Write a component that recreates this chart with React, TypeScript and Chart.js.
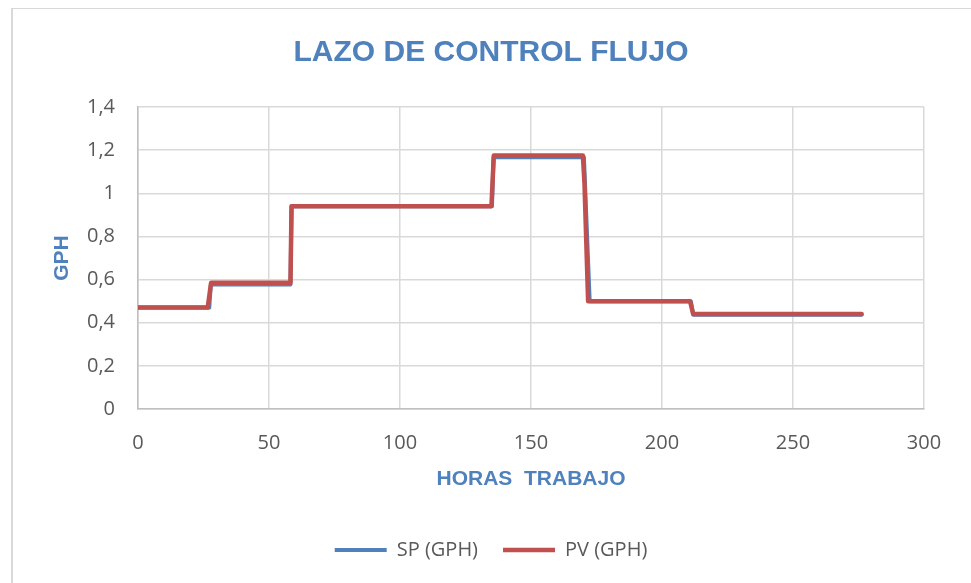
import { useEffect, useRef } from "react";
import { Chart, registerables } from "chart.js";

Chart.register(...registerables);

const chartTitle = "LAZO DE CONTROL FLUJO";
const xAxisTitle = "HORAS  TRABAJO";
const yAxisTitle = "GPH";
const seriesNames = ["SP (GPH)", "PV (GPH)"];

const spHours = [0, 27.2, 27.8, 58.2, 58.6, 135.1, 135.7, 170.2, 172.4, 211.0, 211.9, 276.2];
const spGph = [0.47, 0.47, 0.577, 0.577, 0.94, 0.94, 1.167, 1.167, 0.5, 0.5, 0.437, 0.437];

const pvHours = [0, 26.6, 27.9, 58.2, 58.6, 134.9, 135.8, 169.8, 170.4, 171.8, 210.7, 211.9, 276.2];
const pvGph = [0.47, 0.47, 0.585, 0.585, 0.94, 0.94, 1.175, 1.175, 1.05, 0.5, 0.5, 0.44, 0.44];

const xTicks = [0, 50, 100, 150, 200, 250, 300];
const yTicks = [0, 0.2, 0.4, 0.6, 0.8, 1, 1.2, 1.4];
const yTickLabels = ["0", "0,2", "0,4", "0,6", "0,8", "1", "1,2", "1,4"];

const BLUE = "#4F81BD";
const RED = "#C0504D";
const GRID = "#D9D9D9";
const TEXT = "#595959";

export default function App() {
  const ref = useRef<HTMLCanvasElement | null>(null);

  useEffect(() => {
    if (!ref.current) return;
    const spData = spHours.map((h, i) => ({ x: h, y: spGph[i] }));
    const pvData = pvHours.map((h, i) => ({ x: h, y: pvGph[i] }));

    const chart = new Chart(ref.current, {
      type: "scatter",
      data: {
        datasets: [
          {
            label: seriesNames[0],
            data: spData,
            showLine: true,
            borderColor: BLUE,
            backgroundColor: BLUE,
            borderWidth: 4,
            pointRadius: 0,
            borderCapStyle: "round",
            borderJoinStyle: "round",
            order: 2,
          },
          {
            label: seriesNames[1],
            data: pvData,
            showLine: true,
            borderColor: RED,
            backgroundColor: RED,
            borderWidth: 4.5,
            pointRadius: 0,
            borderCapStyle: "round",
            borderJoinStyle: "round",
            order: 1,
          },
        ],
      },
      options: {
        responsive: false,
        animation: false,
        layout: { padding: { left: 11, right: 0, top: 0, bottom: 13 } },
        plugins: {
          tooltip: { enabled: false },
          title: {
            display: true,
            text: chartTitle,
            color: BLUE,
            font: { family: "'Liberation Sans', Arial, sans-serif", size: 30, weight: "bold" },
            padding: { top: 35, bottom: 36 },
          },
          legend: {
            display: true,
            position: "bottom",
            labels: {
              usePointStyle: true,
              pointStyle: "line",
              pointStyleWidth: 52,
              boxHeight: 20,
              padding: 25,
              color: TEXT,
              font: { family: "'Open Sans', sans-serif", size: 20 },
              sort: (a: any, b: any) => a.datasetIndex - b.datasetIndex,
            },
          },
        },
        scales: {
          x: {
            type: "linear",
            min: 0,
            max: 300,
            afterBuildTicks: (scale: any) => {
              scale.ticks = xTicks.map((v) => ({ value: v }));
            },
            afterFit: (scale: any) => {
              scale.height = 106;
            },
            grid: { color: GRID, lineWidth: 1.5, drawTicks: false },
            border: { display: true, color: "#BFBFBF", width: 1.5 },
            ticks: {
              color: TEXT,
              padding: 22,
              maxRotation: 0,
              font: { family: "'Open Sans', sans-serif", size: 20 },
            },
            title: {
              display: true,
              text: xAxisTitle,
              color: BLUE,
              font: { family: "'Liberation Sans', Arial, sans-serif", size: 21, weight: "bold" },
              padding: { top: 0, bottom: 23 },
            },
          },
          y: {
            type: "linear",
            position: "left",
            min: 0,
            max: 1.4,
            afterBuildTicks: (scale: any) => {
              scale.ticks = yTicks.map((v) => ({ value: v }));
            },
            afterFit: (scale: any) => {
              scale.width = 127;
            },
            grid: { color: GRID, lineWidth: 1.5, drawTicks: false },
            border: { display: true, color: "#BFBFBF", width: 1.5 },
            ticks: {
              color: TEXT,
              padding: 23,
              font: { family: "'Open Sans', sans-serif", size: 20 },
              callback: (_v: any, i: number) => yTickLabels[i],
            },
            title: {
              display: true,
              text: yAxisTitle,
              color: BLUE,
              font: { family: "'Liberation Sans', Arial, sans-serif", size: 21, weight: "bold" },
              padding: { top: 39, bottom: 0 },
            },
          },
          yRight: {
            type: "linear",
            position: "right",
            display: true,
            grid: { display: false, drawTicks: false },
            border: { display: false },
            ticks: { display: false },
            afterFit: (scale: any) => {
              scale.width = 47;
            },
          },
        },
      },
    } as any);

    return () => chart.destroy();
  }, []);

  return (
    <div
      style={{
        position: "fixed",
        left: 0,
        top: 0,
        width: 971,
        height: 583,
        overflow: "hidden",
        background: "#ffffff",
      }}
    >
      <div
        style={{
          position: "absolute",
          left: 11,
          top: 8,
          width: 1000,
          height: 700,
          borderLeft: "2px solid #D9D9D9",
          borderTop: "1.5px solid #D9D9D9",
          boxSizing: "border-box",
        }}
      />
      <canvas
        ref={ref}
        width={971}
        height={583}
        style={{ position: "absolute", left: 0, top: 0, width: 971, height: 583 }}
      />
    </div>
  );
}
